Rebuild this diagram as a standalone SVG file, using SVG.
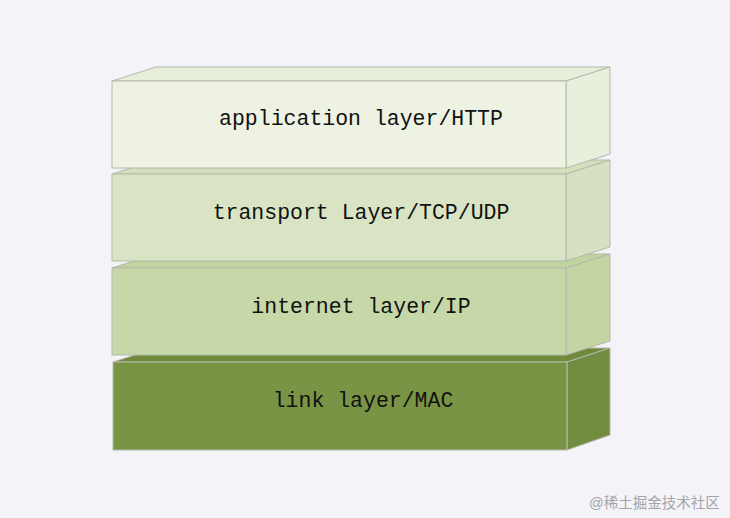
<svg xmlns="http://www.w3.org/2000/svg" width="730" height="518" viewBox="0 0 730 518">
<style>
.face{stroke:#b4b8aa;stroke-width:1}
.lbl{font-family:"Liberation Mono","Courier New",monospace;font-size:21.5px;fill:#111;text-anchor:middle}
.wm{font-family:"Liberation Sans","Noto Sans CJK SC",sans-serif;font-size:14.5px;fill:#a3a3ab}
</style>
<rect width="730" height="518" fill="#f4f4f8"/>
<g id="link">
<polygon class="face" points="113,362 157,348 610,348 567,362" fill="#6f8a3b" stroke="#6a8438"/>
<polygon class="face" points="567,362 610,348 610,435 567,450" fill="#728d40" stroke="#6a8438"/>
<rect class="face" x="113" y="362" width="454" height="88" fill="#7a9445" stroke="#6a8438"/>
<text class="lbl" x="363" y="407">link layer/MAC</text>
</g>
<g id="internet">
<polygon class="face" points="112,268 156,254 610,254 566,268" fill="#c0d49f"/>
<polygon class="face" points="566,268 610,254 610,341 566,355" fill="#c2d5a2"/>
<rect class="face" x="112" y="268" width="454" height="87" fill="#c6d8a7"/>
<text class="lbl" x="361" y="313">internet layer/IP</text>
</g>
<g id="transport">
<polygon class="face" points="112,174 156,160 610,160 566,174" fill="#d3e0bc"/>
<polygon class="face" points="566,174 610,160 610,247 566,261" fill="#d5e1c0"/>
<rect class="face" x="112" y="174" width="454" height="87" fill="#d8e4c4"/>
<text class="lbl" x="361" y="219">transport Layer/TCP/UDP</text>
</g>
<g id="application">
<polygon class="face" points="112,81 156,67 610,67 566,81" fill="#e7eedb"/>
<polygon class="face" points="566,81 610,67 610,154 566,168" fill="#e8efdd"/>
<rect class="face" x="112" y="81" width="454" height="87" fill="#edf2e3"/>
<text class="lbl" x="361" y="125">application layer/HTTP</text>
</g>
<g id="connectors"/>
<text class="wm" x="589" y="508">@稀土掘金技术社区</text>
</svg>
